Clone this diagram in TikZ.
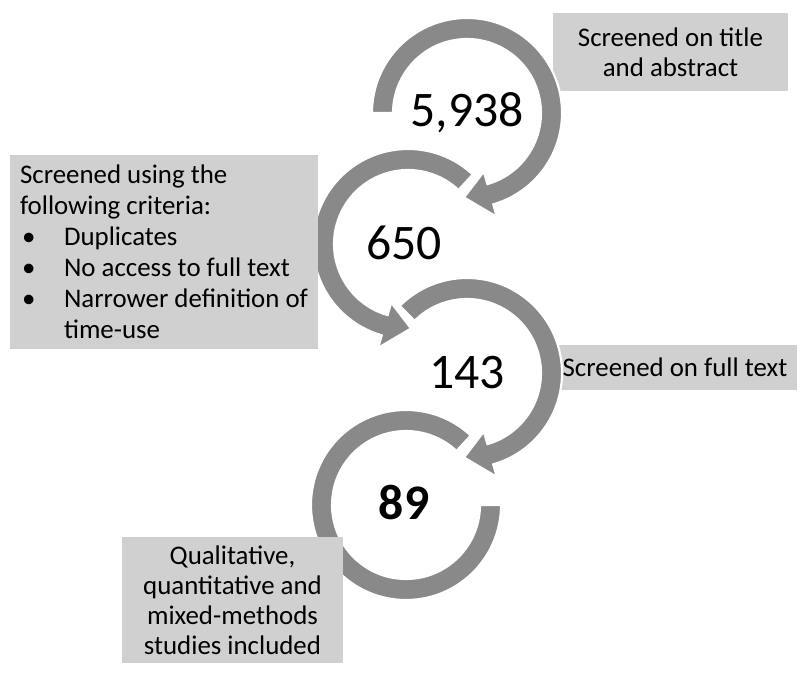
\documentclass[tikz,border=0pt]{standalone}
\usepackage{fontspec}
\setmainfont{Carlito}
\usepackage{tikz}
\definecolor{ringgray}{RGB}{137,137,137}
\definecolor{boxgray}{RGB}{208,208,208}
\tikzset{
	ring/.style={fill=ringgray, draw=white, line width=1.2pt, line join=miter},
	stagebox/.style={fill=boxgray, draw=none, inner sep=0pt, align=center,
		font=\fontsize{15.3}{17}\selectfont},
	count/.style={font=\fontsize{28.3}{32}\selectfont}
}
% circular band from angle #3 to #4 with its head ending at angle #5
\def\ringarrow(#1,#2)(#3:#4:#5){\filldraw[ring,shift={(#1,#2)}] (#3:95) arc[start angle=#3, end angle=#4, radius=95] -- (#4:108) -- (#5:84.5) -- (#4:61) -- (#4:74) arc[start angle=#4, end angle=#3, radius=74] -- cycle;}
\newcommand{\bulletitem}{\makebox[0.88cm][l]{\hspace{0.04cm}\textbullet}}

\begin{document}
\begin{tikzpicture}[x=0.02cm, y=0.02cm]
			%%%%% START %%%%%
			\useasboundingbox (0, 0) rectangle (800, 673);
			
			\node[stagebox, minimum width=4.7cm, minimum height=1.56cm] (title) at (670.5, 621) {Screened on title\\and abstract};
			\node[stagebox, minimum width=4.88cm, minimum height=0.9cm] (fulltext) at (675, 305.5) {Screened on full text};
			
			% last stage, no head
			\filldraw[ring, shift={(406, 168)}] (47:95) arc[start angle=47, end angle=360, radius=95] -- (360:74) arc[start angle=360, end angle=47, radius=74] -- cycle;
			\ringarrow(467,300)(135:-74:-92)
			\ringarrow(408,429)(47:254:272)
			\ringarrow(467,560)(180:-74:-92)
			
			\node[count] (n5938) at (467, 560) {5,938};
			\node[count] (n650) at (404, 430) {650};
			\node[count] (n143) at (467, 300) {143};
			\node[count, font=\fontsize{28.3}{32}\selectfont\bfseries] (n89) at (404, 170) {89};
			
			\node[stagebox, minimum width=6.16cm, minimum height=3.88cm, align=left, font=\fontsize{15.3}{17.6}\selectfont] (criteria) at (164, 421) {Screened using the\\following criteria:\\\bulletitem Duplicates\\\bulletitem No access to full text\\\bulletitem Narrower definition of\\\hspace*{0.88cm}time-use};
			\node[stagebox, minimum width=4.42cm, minimum height=2.52cm] (included) at (232.5, 73) {Qualitative,\\quantitative and\\mixed-methods\\studies included};
			%%%%% END %%%%%
\end{tikzpicture}
\end{document}
